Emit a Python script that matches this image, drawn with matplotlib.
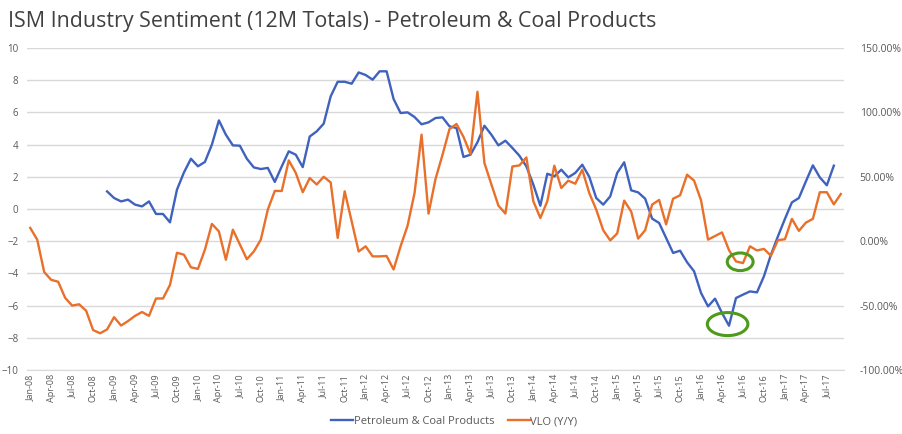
import numpy as np
import pandas as pd
import matplotlib
matplotlib.use("Agg")
import matplotlib.pyplot as plt
from matplotlib.patches import Ellipse
from matplotlib.ticker import FuncFormatter, MultipleLocator

plt.rcParams['font.family'] = ['Open Sans', 'DejaVu Sans']

# monthly categories Jan-08 .. Sep-17
months = pd.date_range('2008-01-01', periods=117, freq='MS')
month_labels = [d.strftime('%b-%y') for d in months]

# ISM petroleum & coal products sentiment, 12M totals (left axis)
ism = [np.nan] * 11 + [
    1.09, 0.68, 0.47, 0.58, 0.27, 0.16, 0.47, -0.31, -0.31, -0.83,
    1.2, 2.27, 3.12, 2.65, 2.92, 4.0, 5.5, 4.61, 3.95, 3.93,
    3.12, 2.58, 2.48, 2.55, 1.68, 2.65, 3.58, 3.37, 2.6, 4.5,
    4.82, 5.3, 7.0, 7.9, 7.9, 7.78, 8.48, 8.32, 8.03, 8.55,
    8.55, 6.83, 5.96, 6.0, 5.71, 5.26, 5.38, 5.65, 5.69, 5.13,
    5.03, 3.23, 3.37, 4.14, 5.17, 4.61, 3.95, 4.24, 3.79, 3.31,
    2.65, 1.51, 0.2, 2.19, 2.02, 2.44, 1.96, 2.24, 2.75, 2.0,
    0.68, 0.27, 0.78, 2.24, 2.9, 1.16, 1.03, 0.64, -0.6, -0.87,
    -1.8, -2.73, -2.59, -3.31, -3.87, -5.22, -6.05, -5.57, -6.46, -7.25,
    -5.53, -5.32, -5.12, -5.18, -4.18, -2.84, -1.7, -0.62, 0.41, 0.68,
    1.71, 2.71, 1.96, 1.47, 2.69, np.nan]

# VLO year-over-year change in % (right axis)
vlo = [
    10.3, 1.2, -24, -30, -31.5, -44, -50, -49, -54, -69,
    -71.5, -68.5, -59, -65.5, -62, -58, -55, -58, -44.5, -44.5,
    -34, -9, -10.5, -20.3, -21.5, -6.6, 13.4, 7.6, -14.4, 8.9,
    -2.5, -14, -8, 1.2, 24.5, 39, 39, 62.7, 53, 38,
    49, 44, 50, 45.6, 2.5, 38.7, 15.4, -8, -4, -11.8,
    -11.8, -11.5, -22, -4, 12, 37.4, 82.7, 21.4, 48.3, 67,
    87, 91, 81, 67.7, 116, 60.7, 44, 27.6, 21.4, 58,
    58.8, 65, 31, 18, 31, 58.6, 41.3, 47, 44.6, 55.5,
    37.4, 24.5, 8.5, 0.6, 6, 31.5, 23, 2, 8.5, 28.4,
    32, 13, 33, 35.6, 51.6, 47, 31.7, 1.2, 4, 6.8,
    -7, -15.7, -17, -4, -7.2, -6, -11.3, 0.8, 1.5, 17.3,
    8, 14.4, 17.3, 38, 38, 28.6, 36.6]

blue = '#3F62BE'
orange = '#E8702A'
grid_c = '#D9D9D9'
txt_c = '#595959'

x = np.arange(len(months))

fig = plt.figure(figsize=(9.03, 4.34), dpi=100)
ax = fig.add_axes([0.0296, 0.1475, 0.9054, 0.742])
ax2 = ax.twinx()

l1, = ax.plot(x, ism, color=blue, lw=1.7, label='Petroleum & Coal Products')
l2, = ax2.plot(x, vlo, color=orange, lw=1.7, label='VLO (Y/Y)')

ax.set_xlim(-0.5, len(months) - 0.5)
ax.set_ylim(-10, 10)
ax.yaxis.set_major_locator(MultipleLocator(2))
ax2.set_ylim(-100, 150)
ax2.yaxis.set_major_locator(MultipleLocator(50))
ax2.yaxis.set_major_formatter(FuncFormatter(lambda v, p: f'{v:.2f}%'))

ax.grid(axis='y', color=grid_c, lw=1)
ax.set_axisbelow(True)
for a in (ax, ax2):
    for s in a.spines.values():
        s.set_visible(False)
ax.spines['bottom'].set_visible(True)
ax.spines['bottom'].set_color(grid_c)

ax.set_xticks(x[::3])
ax.set_xticklabels(month_labels[::3], rotation=90, fontsize=6.5, color=txt_c)
ax.tick_params(axis='x', length=0, pad=3)
ax.tick_params(axis='y', length=0, labelsize=7, labelcolor=txt_c, pad=6)
ax2.tick_params(axis='y', length=0, labelsize=7.5, labelcolor=txt_c, pad=11)

# green circles marking the two lows
i_v = int(np.nanargmin(vlo[95:])) + 95
ax2.add_patch(Ellipse((i_v - 0.4, vlo[i_v] + 1), 3.7, 13.7, fill=False,
                      ec='#4E9A1C', lw=2.2, zorder=5))
i_b = int(np.nanargmin(ism))
ax.add_patch(Ellipse((i_b - 0.2, ism[i_b] + 0.1), 5.8, 1.43, fill=False,
                     ec='#4E9A1C', lw=2.2, zorder=5))

fig.text(0.009, 0.975, 'ISM Industry Sentiment (12M Totals) - Petroleum & Coal Products',
         fontsize=15.4, color='#404040', va='top', ha='left')

fig.legend(handles=[l1, l2], loc='center', bbox_to_anchor=(0.503, 0.028), ncol=2,
           frameon=False, fontsize=8, handlelength=2.0, handletextpad=0.05,
           columnspacing=1.2, labelcolor=txt_c)

fig.savefig('out.png', dpi=100)
